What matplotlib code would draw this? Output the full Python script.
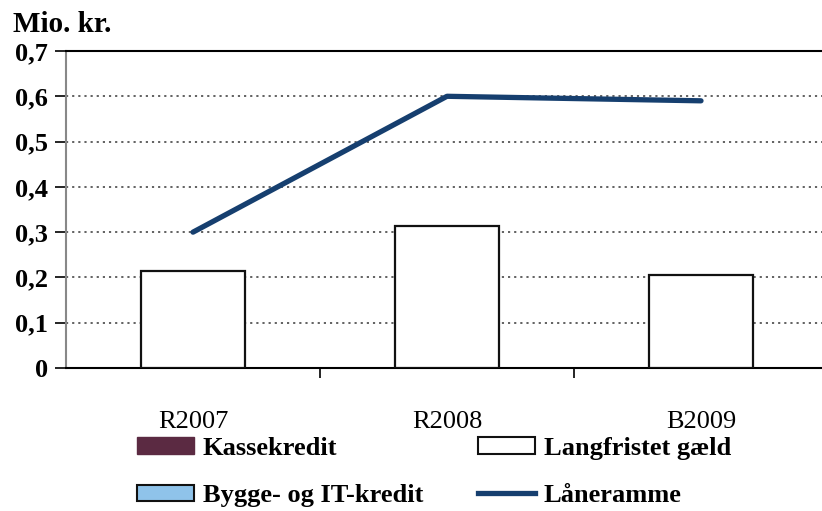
import matplotlib
matplotlib.use("Agg")
from matplotlib import pyplot as plt
from matplotlib.patches import Patch
from matplotlib.lines import Line2D
import numpy as np

# data (mio. kr.)
categories = ["R2007", "R2008", "B2009"]
kassekredit = [0.0, 0.0, 0.0]
bygge_it_kredit = [0.0, 0.0, 0.0]
langfristet_gaeld = [0.215, 0.313, 0.205]
laaneramme = [0.30, 0.60, 0.59]
yticks = [0, 0.1, 0.2, 0.3, 0.4, 0.5, 0.6, 0.7]
ytick_labels = ["0", "0,1", "0,2", "0,3", "0,4", "0,5", "0,6", "0,7"]

plt.rcParams['font.family'] = ["Liberation Serif", "DejaVu Serif"]

fig = plt.figure(figsize=(8.22, 5.11), dpi=100)
ax = fig.add_axes([0.0803, 0.2798, 0.927, 0.6204])

x = np.arange(len(categories))
w = 0.41
ax.bar(x, kassekredit, w, color="#5b2a42", linewidth=0)
ax.bar(x, bygge_it_kredit, w, bottom=kassekredit, color="#8fc3ea", linewidth=0)
ax.bar(x, langfristet_gaeld, w, color="white", edgecolor="#111111", linewidth=1.6, zorder=3)
ax.plot(x, laaneramme, color="#163f6f", linewidth=3.8, solid_capstyle="round", zorder=4)

ax.set_xlim(-0.5, 2.5)
ax.set_ylim(0, 0.7)
ax.set_yticks(yticks)
ax.set_yticklabels(ytick_labels, fontsize=19, fontweight="bold")
ax.yaxis.grid(True, color="#555555", linestyle=(0, (1.2, 2.2)), linewidth=1.3)
ax.set_axisbelow(True)

ax.set_xticks([0.5, 1.5])
ax.set_xticklabels([])
ax.set_xticks(x, minor=True)
ax.set_xticklabels(categories, minor=True, fontsize=19)
ax.tick_params(axis="x", which="minor", length=0, pad=31)
ax.tick_params(axis="x", which="major", length=7, width=1.2, direction="out")
ax.tick_params(axis="y", length=8, width=1.2, direction="out", pad=5)

ax.spines["left"].set_color("#888888")
ax.spines["left"].set_linewidth(1.5)
ax.spines["bottom"].set_linewidth(1.5)
ax.spines["top"].set_linewidth(1.5)
ax.spines["right"].set_visible(False)

fig.text(0.016, 0.937, "Mio. kr.", fontsize=21, fontweight="bold")

col1 = [
    Patch(facecolor="#5b2a42", edgecolor="#5b2a42", label="Kassekredit"),
    Patch(facecolor="#8fc3ea", edgecolor="#111111", linewidth=1.5, label="Bygge- og IT-kredit"),
]
col2 = [
    Patch(facecolor="white", edgecolor="#111111", linewidth=1.5, label="Langfristet gæld"),
    Line2D([], [], color="#163f6f", linewidth=3.8, label="Låneramme"),
]
leg_kw = dict(loc="upper left", frameon=False, handlelength=2.15, handleheight=0.6,
              handletextpad=0.35, labelspacing=0.92, borderaxespad=0, borderpad=0,
              prop={"size": 19, "weight": "bold"})
fig.legend(handles=col1, bbox_to_anchor=(137 / 822, 1 - 437 / 511), **leg_kw)
fig.legend(handles=col2, bbox_to_anchor=(478 / 822, 1 - 437 / 511), **leg_kw)

fig.savefig("out.png", dpi=100)
